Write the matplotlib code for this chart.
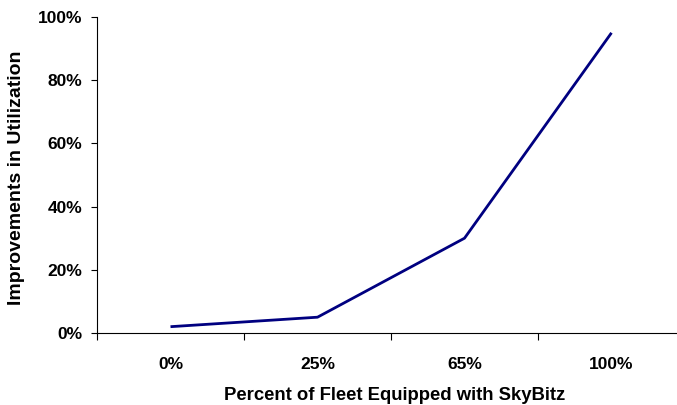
import matplotlib
matplotlib.use("Agg")
import matplotlib.pyplot as plt
from matplotlib.ticker import PercentFormatter

# Fleet share equipped vs. utilization improvement
categories = ["0%", "25%", "65%", "100%"]
improvement = [2, 5, 30, 95]
y_ticks = [0, 20, 40, 60, 80, 100]

plt.rcParams["font.family"] = ["Liberation Sans", "DejaVu Sans"]
plt.rcParams["font.weight"] = "bold"

fig = plt.figure(figsize=(6.77, 4.05), dpi=100)
ax_left, ax_bottom = 97 / 677, 1 - 333 / 405
ax_w, ax_h = 588 / 677, 316 / 405
ax = fig.add_axes([ax_left, ax_bottom, ax_w, ax_h])

x = list(range(len(categories)))
ax.plot(x, improvement, color="#000080", linewidth=2.0, solid_capstyle="butt")

ax.set_xlim(-0.5, len(categories) - 0.5)
ax.set_ylim(0, 100)
ax.set_yticks(y_ticks)
ax.yaxis.set_major_formatter(PercentFormatter(decimals=0))

# category labels centred, tick marks between categories
ax.set_xticks(x)
ax.set_xticklabels(categories, fontsize=12.5, fontweight="bold")
ax.tick_params(axis="x", which="major", length=0, pad=17)
ax.set_xticks([i - 0.5 for i in range(len(categories) + 1)], minor=True)
ax.tick_params(axis="x", which="minor", length=5, width=0.8, direction="out", color="black")
ax.tick_params(axis="y", length=4.3, width=0.8, direction="out", pad=6.5, labelsize=12.5)
for lbl in ax.get_yticklabels():
    lbl.set_fontweight("bold")

ax.spines["top"].set_visible(False)
ax.spines["right"].set_visible(False)
ax.spines["left"].set_linewidth(0.8)
ax.spines["bottom"].set_linewidth(0.8)

ax.set_xlabel("Percent of Fleet Equipped with SkyBitz", fontsize=13.3,
              fontweight="bold", va="baseline")
ax.xaxis.set_label_coords((395 - 97) / 588, -(400 - 333) / 316)
ax.set_ylabel("Improvements in Utilization", fontsize=14,
              fontweight="bold", va="center")
ax.yaxis.set_label_coords(-(97 - 17) / 588, (333 - 178) / 316)

fig.savefig("out.png", dpi=100)
